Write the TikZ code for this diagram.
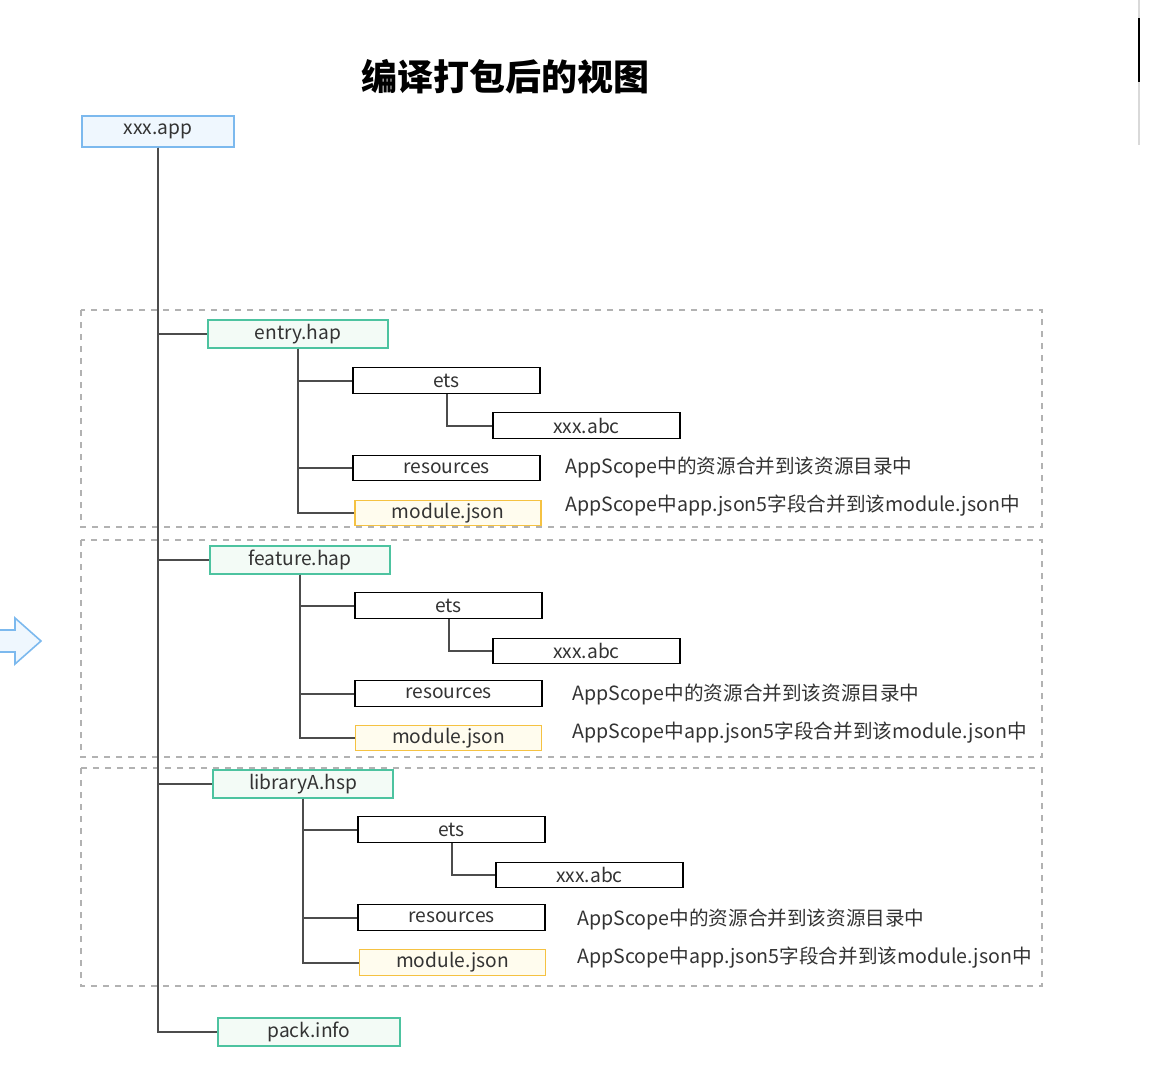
\documentclass[tikz,border=0pt]{standalone}
\usepackage{fontspec}
\setmainfont{Noto Sans CJK SC}
\usepackage{xcolor}
\tikzset{>=latex}
\definecolor{appfill}{HTML}{EFF7FE}
\definecolor{appline}{HTML}{7CB9EE}
\definecolor{hapfill}{HTML}{F3FBF6}
\definecolor{hapline}{HTML}{4DC3A0}
\definecolor{jsonfill}{HTML}{FFFCEE}
\definecolor{jsonline}{HTML}{F5C242}
\colorlet{grpcol}{black!30}
\colorlet{linkcol}{black!70}
\colorlet{txtcol}{black!80}
\tikzset{
  box/.style={draw, line width=0.7pt, minimum height=12.75pt, inner sep=0pt},
  appbox/.style={box, draw=appline, fill=appfill, minimum width=76pt, minimum height=15.5pt},
  hapbox/.style={box, draw=hapline, fill=hapfill, minimum width=90pt, minimum height=14pt},
  dirbox/.style={box, draw=black, fill=white, minimum width=93.5pt},
  jsonbox/.style={box, draw=jsonline, fill=jsonfill, minimum width=93pt},
  note/.style={anchor=west, inner sep=0pt, font=\fontsize{9.8}{12}\selectfont},
  link/.style={draw=linkcol, line width=1pt},
  group/.style={draw=grpcol, dashed, line width=0.6pt},
}

\begin{document}
\begin{tikzpicture}[x=0.5pt, y=-0.5pt, font=\fontsize{9.6}{11}\selectfont, text=txtcol]
    \useasboundingbox (0,0) rectangle (1174,1072);

    % cut-off bits at the edges
    \draw [black!15, line width=1pt] (1139,0) -- (1139,145);
    \draw [black, line width=1pt] (1139,18) -- (1139,82);
    \filldraw [draw=appline, fill=appfill, line width=0.8pt]
        (-5,630) -- (15,630) -- (15,618) -- (41,641) -- (15,664) -- (15,652) -- (-5,652) -- cycle;

    % groups
    \draw [group] (81,310) rectangle (1042,527);
    \draw [group] (81,540) rectangle (1042,757);
    \draw [group] (81,768) rectangle (1042,986);

    \node [text=black] (title) at (505,77) {\bfseries\fontsize{18}{22}\selectfont 编译打包后的视图};
    \node [appbox] (app) at (158,131.5) {xxx.app};

    % entry.hap
    \node [hapbox] (entry) at (298,334) {entry.hap};
    \node [dirbox] (ets1) at (446.5,380.5) {ets};
    \node [dirbox] (abc1) at (586.5,425.5) {xxx.abc};
    \node [dirbox] (res1) at (446.5,468) {resources};
    \node [jsonbox] (mod1) at (448,513) {module.json};
    \node [note] (resnote1) at (565,467) {AppScope中的资源合并到该资源目录中};
    \node [note] (modnote1) at (565,506) {AppScope中app.json5字段合并到该module.json中};

    % feature.hap
    \node [hapbox] (feature) at (300,560) {feature.hap};
    \node [dirbox] (ets2) at (448.5,605.5) {ets};
    \node [dirbox] (abc2) at (586.5,651) {xxx.abc};
    \node [dirbox] (res2) at (448.5,693.5) {resources};
    \node [jsonbox] (mod2) at (448.5,738) {module.json};
    \node [note] (resnote2) at (572,694) {AppScope中的资源合并到该资源目录中};
    \node [note] (modnote2) at (572,733) {AppScope中app.json5字段合并到该module.json中};

    % libraryA.hsp
    \node [hapbox] (lib) at (303,784) {libraryA.hsp};
    \node [dirbox] (ets3) at (451.5,829.5) {ets};
    \node [dirbox] (abc3) at (589.5,875) {xxx.abc};
    \node [dirbox] (res3) at (451.5,917.5) {resources};
    \node [jsonbox] (mod3) at (452.5,962.5) {module.json};
    \node [note] (resnote3) at (577,919) {AppScope中的资源合并到该资源目录中};
    \node [note] (modnote3) at (577,958) {AppScope中app.json5字段合并到该module.json中};

    \node [hapbox, minimum width=91pt] (pack) at (309,1032) {pack.info};

    % tree lines
    \draw [link] (app.south) |- (entry.west);
    \draw [link] (app.south) |- (feature.west);
    \draw [link] (app.south) |- (lib.west);
    \draw [link] (app.south) |- (pack.west);

    \draw [link] (entry.south) |- (ets1.west);
    \draw [link] (entry.south) |- (res1.west);
    \draw [link] (entry.south) |- (mod1.west);
    \draw [link] (ets1.south) |- (abc1.west);

    \draw [link] (feature.south) |- (ets2.west);
    \draw [link] (feature.south) |- (res2.west);
    \draw [link] (feature.south) |- (mod2.west);
    \draw [link] (ets2.south) |- (abc2.west);

    \draw [link] (lib.south) |- (ets3.west);
    \draw [link] (lib.south) |- (res3.west);
    \draw [link] (lib.south) |- (mod3.west);
    \draw [link] (ets3.south) |- (abc3.west);
\end{tikzpicture}
\end{document}
